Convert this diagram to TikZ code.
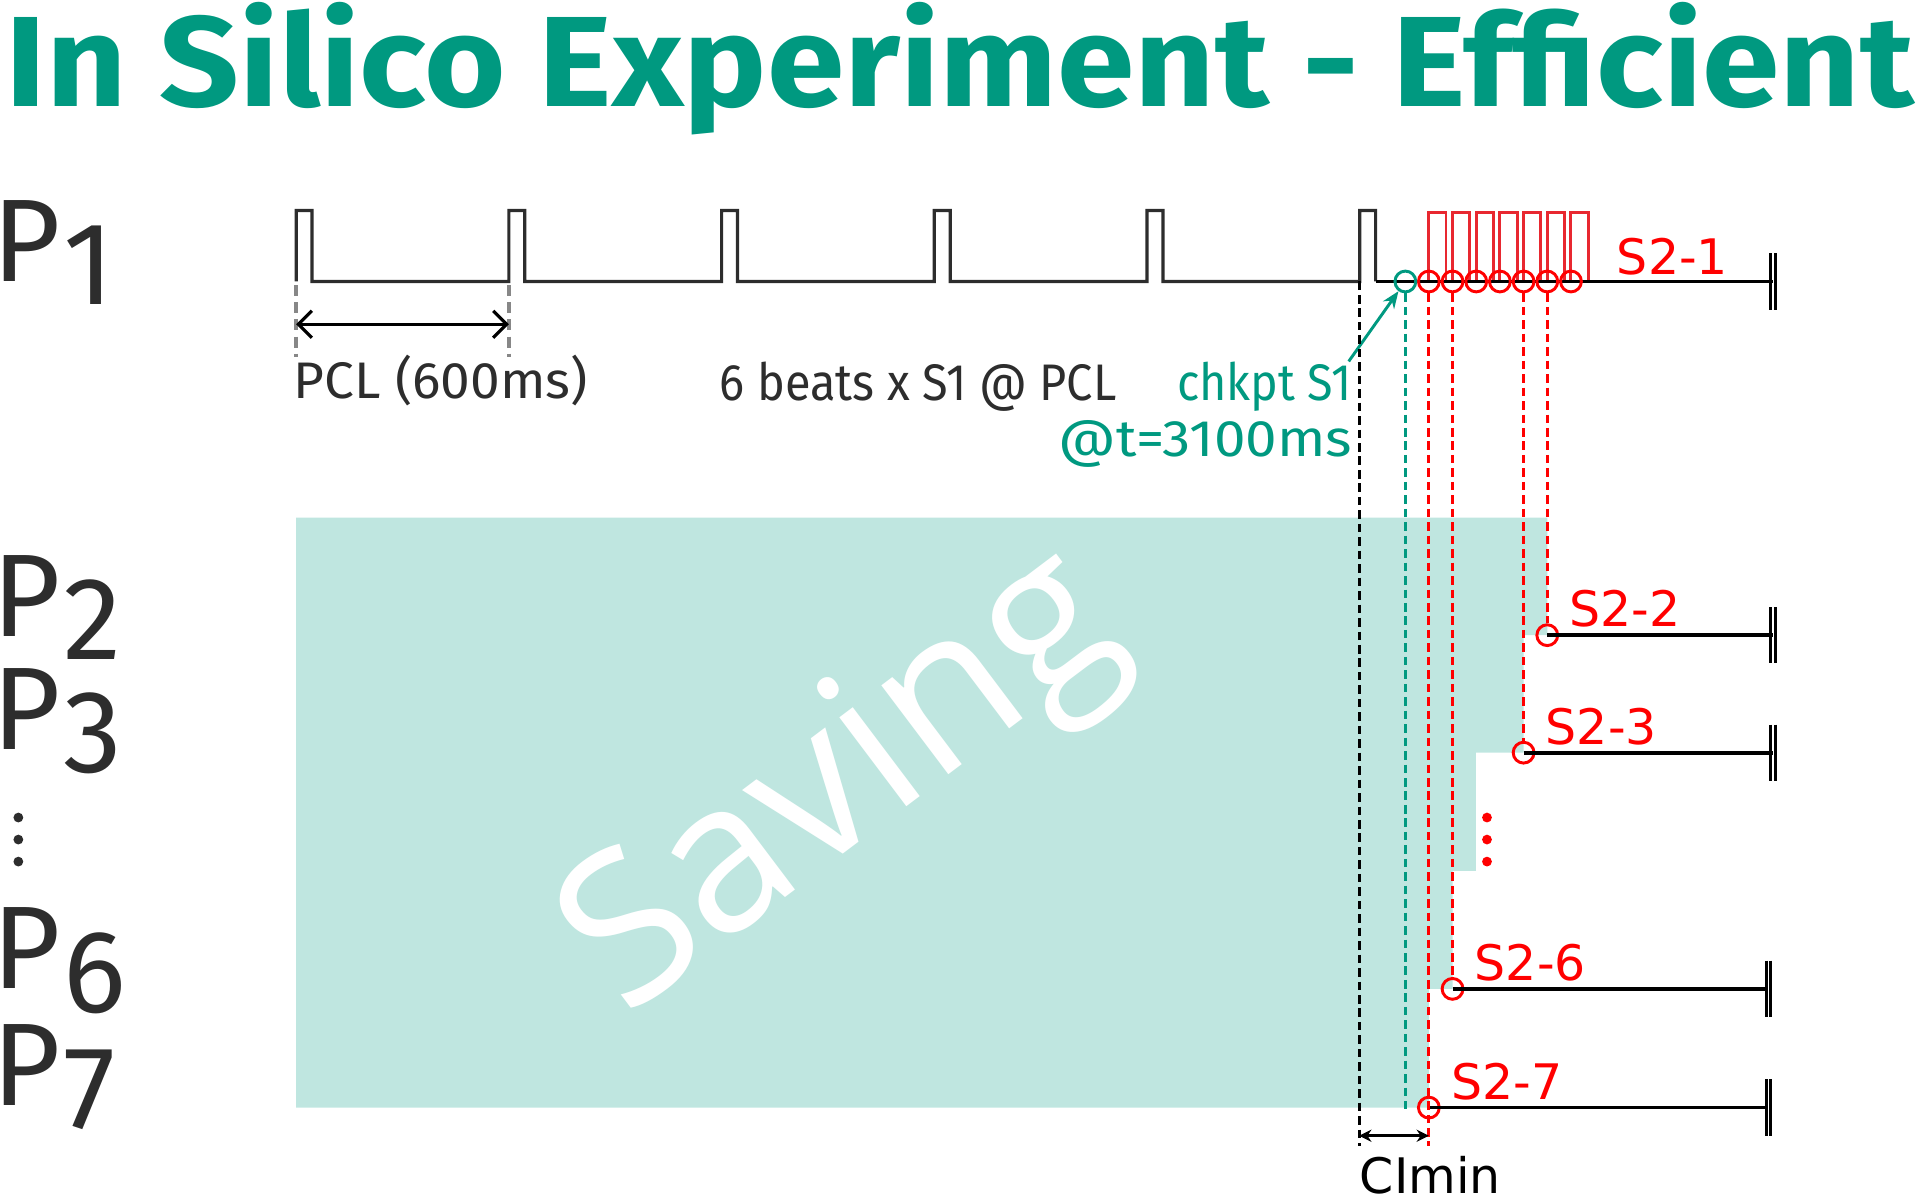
\documentclass[tikz,border=0pt]{standalone}
\usepackage{fontspec}
\setmainfont{Fira Sans}
\newfontfamily\dejavu{DejaVu Sans}
\newfontfamily\opensans{Open Sans}
\usetikzlibrary{arrows.meta}

\definecolor{chkteal}{RGB}{0,153,128}
\definecolor{savebg}{RGB}{191,230,224}
\definecolor{wavegray}{RGB}{45,45,45}
\definecolor{pclgray}{RGB}{135,135,135}
\definecolor{s2red}{RGB}{255,0,0}
\definecolor{pulsered}{RGB}{232,40,48}

\newcommand\fitto[2]{\resizebox{#1pt}{\height}{#2}}

\tikzset{
  wave/.style={draw=wavegray,line width=2.6pt},
  pulse/.style={draw=pulsered,line width=2.4pt},
  rowline/.style={draw=black,line width=3pt},
  smark/.style={circle,draw=s2red,line width=2.4pt,minimum size=17pt,inner sep=0pt},
  chkmark/.style={smark,draw=chkteal},
  sdash/.style={draw=s2red,line width=2.6pt,dash pattern=on 7pt off 4pt},
  chkdash/.style={sdash,draw=chkteal},
  blkdash/.style={sdash,draw=black},
  pcldash/.style={draw=pclgray,line width=2.8pt,dash pattern=on 9pt off 5pt},
  lab/.style={inner sep=0pt,font=\fontsize{42}{48}\selectfont,text=wavegray},
  s2lab/.style={inner sep=0pt,anchor=base west,font=\dejavu\fontsize{40}{46}\selectfont,text=s2red},
  plab/.style={inner sep=0pt,anchor=base west,font=\fontsize{96}{100}\selectfont,text=wavegray},
  pics/endbar/.style={code={\draw[line width=2.4pt] (-2,-23) -- (-2,23) (2,-23) -- (2,23);}}
}

\begin{document}
\begin{tikzpicture}[x=1pt,y=-1pt]
  \useasboundingbox (0,0) rectangle (1568,976);
  \node[inner sep=0pt,anchor=base west,text=chkteal,font=\bfseries\fontsize{105}{110}\selectfont] (title) at (4,87)
    {\fitto{1560}{In Silico Experiment - Efficient}};

  \fill[savebg] (242,423) -- (1264.3,423) -- (1264.3,519) -- (1244.9,519) -- (1244.9,615) -- (1206,615)
    -- (1206,711.5) -- (1186.9,711.5) -- (1186.9,808) -- (1167.5,808) -- (1167.5,905) -- (242,905) -- cycle;
  \node[rotate=37,text=white,inner sep=0pt,font=\opensans\fontsize{170}{170}\selectfont] (saving) at (691,644) {Saving};

  \foreach \n/\y in {1/230,2/520,3/612,6/808,7/903}
    \node[plab] (p\n) at (-6,\y) {P\kern2pt\raisebox{-19pt}{\n}};
  \foreach \y in {668,686,704}
    \fill[wavegray] (15,\y) circle (4);

  \draw[wave] (242,230) foreach \x in {242,415.8,589.6,763.4,937.2} { -- (\x,172) -- (\x+13,172) -- (\x+13,230) -- (\x+173.8,230) }
    -- (1111,172) -- (1124,172) -- (1124,230) coordinate (w1);
  \foreach \k in {0,...,6}
    \draw[pulse] ({1167.5+19.35*\k},230) -- ++(0,-56) -- ++(14,0) -- ++(0,56);
  \coordinate (e1) at (1449,230);
  \draw[rowline] (w1) -- (e1);
  \pic at (e1) {endbar};
  \foreach \k in {0,...,6}
    \node[smark] (s\k) at ({1167.5+19.35*\k},230) {};
  \node[chkmark] (t) at (1148.3,230) {};
  \node[s2lab] (l1) at (1321,224) {S2-1};

  \coordinate (pa) at (242,265);
  \coordinate (pb) at (415.8,265);
  \draw[pcldash] (242,233) -- (242,292) (415.8,233) -- (415.8,292);
  \draw[line width=2.6pt,{Straight Barb[length=11pt,width=22pt]}-{Straight Barb[length=11pt,width=22pt]}] (pa) -- (pb);
  \node[lab,anchor=base west] (pcl) at (240,326) {\fitto{240}{PCL (600ms)}};
  \node[lab,anchor=base west] (beats) at (588,327) {\fitto{324}{6 beats x S1 @ PCL}};
  \node[lab,anchor=base east,text=chkteal] (chk) at (1105,327) {\fitto{143}{chkpt S1}};
  \node[lab,anchor=base east,text=chkteal] (chkt) at (1105,373) {\fitto{240}{@t=3100ms}};
  \draw[chkteal,line width=2.4pt,-{Stealth[length=14pt,width=11pt]}] ([xshift=-3pt]chk.north east) -- (t);

  \coordinate (bk) at (1110.6,230);
  \coordinate (ck) at (1110.6,936);
  \draw[blkdash] (bk) -- (ck);
  \coordinate (tk) at (1148.3,906);
  \draw[chkdash] (t) -- (tk);

  \foreach \k/\y/\n/\ex in {5/519/2/1449,4/615/3/1449,1/808/6/1445,0/905/7/1445} {
    \node[smark] (r\n) at ({1167.5+19.35*\k},\y) {};
    \coordinate (e\n) at (\ex,\y);
    \draw[rowline] (r\n.center) -- (e\n);
    \pic at (e\n) {endbar};
    \node[s2lab] (l\n) at ({1185.5+19.35*\k},\y-7) {S2-\n};
  }
  \draw[sdash] (s5) -- (r2);
  \draw[sdash] (s4) -- (r3);
  \draw[sdash] (s1) -- (r6);
  \coordinate (sk) at (1167.5,936);
  \draw[sdash] (s0) -- (sk);
  \foreach \y in {668,686,704}
    \fill[s2red] (1215,\y) circle (4);

  \coordinate (ca) at (1110.6,928);
  \coordinate (cb) at (1167.5,928);
  \draw[line width=2.4pt,{Stealth[length=10pt,width=10pt]}-{Stealth[length=10pt,width=10pt]}] (ca) -- (cb);
  \node[inner sep=0pt,anchor=base west,font=\dejavu\fontsize{40}{46}\selectfont] (ci) at (1111,975) {CImin};
\end{tikzpicture}
\end{document}
